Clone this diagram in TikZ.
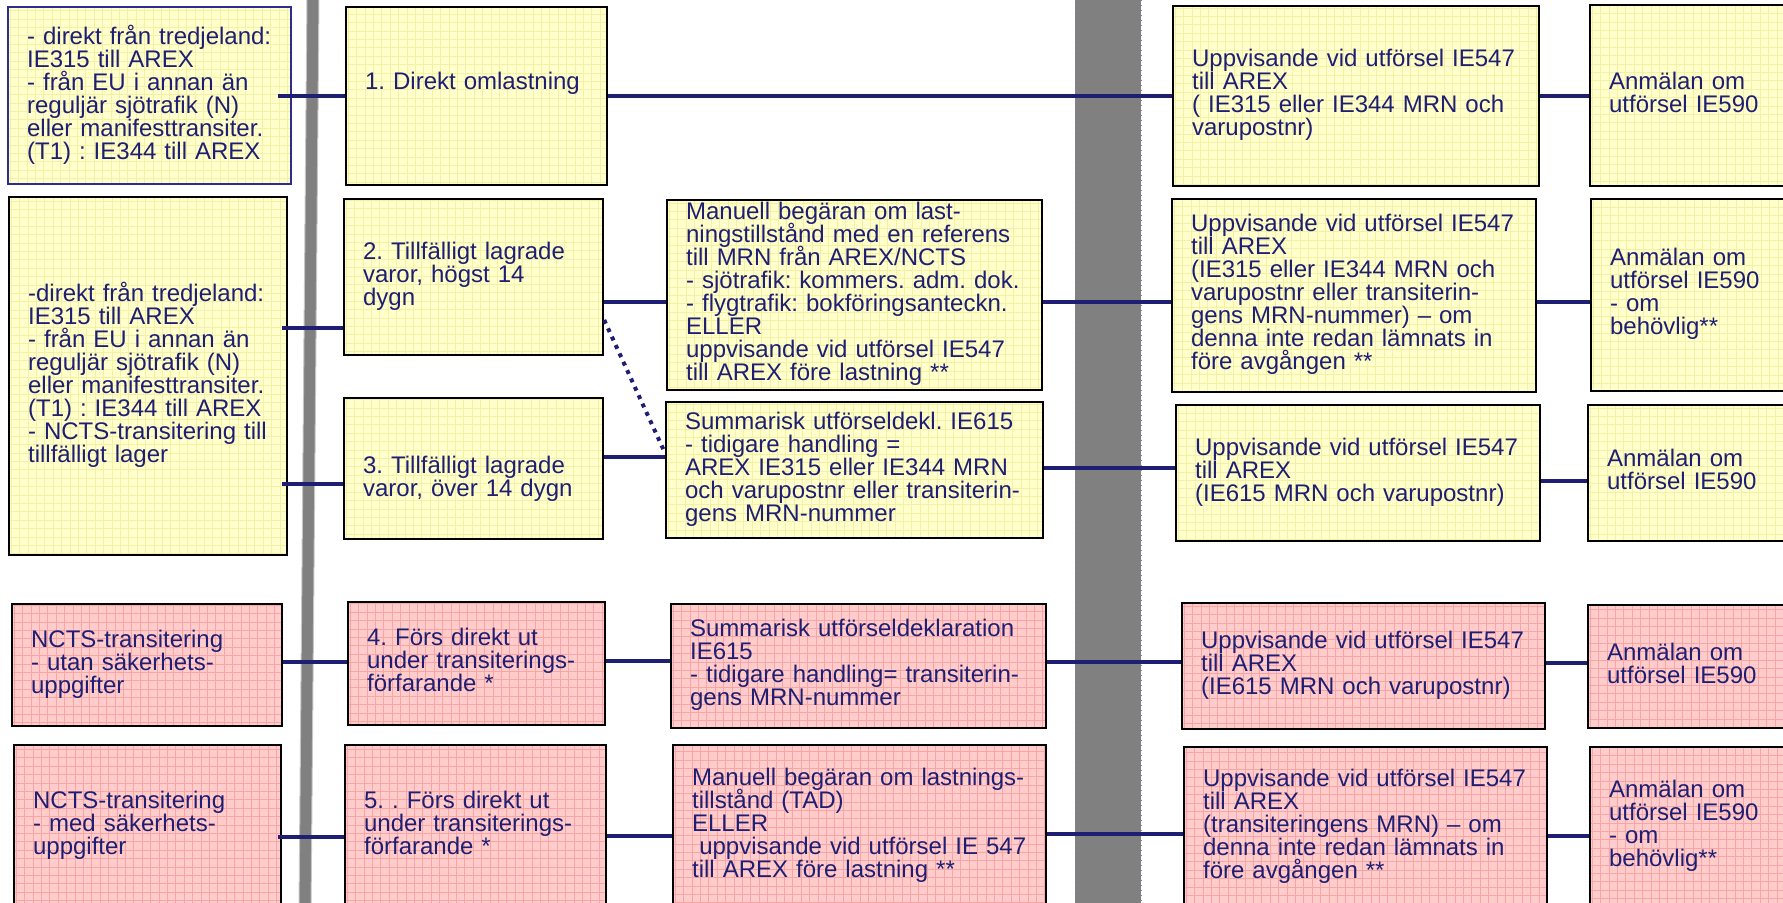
\documentclass[tikz,border=0pt]{standalone}
\usepackage{fontspec}
\setmainfont{Liberation Sans}

\definecolor{navyink}{RGB}{30,30,115}
\definecolor{navyedge}{RGB}{45,45,145}
\definecolor{padyellow}{RGB}{255,255,204}
\definecolor{padyellowgrid}{RGB}{244,240,168}
\definecolor{padpink}{RGB}{255,204,204}
\definecolor{padpinkgrid}{RGB}{250,165,165}
\definecolor{bargray}{RGB}{128,128,128}
\definecolor{barline}{RGB}{130,130,185}

% one box: name, style, left, top, width, height (all in pixels), text
\newcommand{\padnode}[7]{%
  \pgfmathsetmacro{\padw}{#5*0.5-19}%
  \pgfmathsetmacro{\padh}{#6*0.5}%
  \node[#2, text width=\padw pt, minimum height=\padh pt] (#1) at (#3,#4) {#7};%
}

\tikzset{
  ruled/.style={path picture={\draw[#1, line width=0.5pt, step=4.2pt]
    (path picture bounding box.south west) grid (path picture bounding box.north east);}},
  card/.style={draw=black, line width=1.1pt, anchor=north west, align=left,
    inner xsep=9.5pt, inner ysep=0pt, text=navyink,
    font=\fontsize{12pt}{11.5pt}\selectfont\frenchspacing,
    execute at begin node={\lineskiplimit=-20pt\strut},
    execute at end node=\strut},
  ycard/.style={card, fill=padyellow, ruled=padyellowgrid},
  pcard/.style={card, fill=padpink, ruled=padpinkgrid},
  wire/.style={navyink, line width=2pt},
  hint/.style={navyink, line width=2pt, dash pattern=on 2pt off 2.6pt}
}

\begin{document}
\begin{tikzpicture}[x=0.5pt, y=-0.5pt]
  \useasboundingbox (0,0) rectangle (1783,903);
  \clip (0,0) rectangle (1783,903);

  % the two gray bars
  \filldraw[fill=bargray, draw=bargray!45, line width=0.5pt]
    (307,-5) -- (319,-5) -- (311,910) -- (299,910) -- cycle;
  \fill[bargray] (1075,-5) rectangle (1141,910);
  \draw[barline, line width=0.5pt, dotted] (1075,-5) -- (1075,910) (1141,-5) -- (1141,910);

  % row 1
  \padnode{a1}{ycard, draw=navyedge}{7}{6}{283}{177}{- direkt från tredjeland:\\IE315 till AREX\\- från EU i annan än\\reguljär sjötrafik (N)\\eller manifesttransiter.\\(T1) : IE344 till AREX}
  \padnode{b1}{ycard}{345}{6}{261}{178}{1. Direkt omlastning\\\mbox{}}
  \padnode{d1}{ycard}{1172}{5}{366}{180}{Uppvisande vid utförsel IE547\\till AREX\\( IE315 eller IE344 MRN och\\varupostnr)}
  \padnode{e1}{ycard}{1589}{4}{220}{181}{Anmälan om\\utförsel IE590}

  % rows 2 and 3
  \padnode{a2}{ycard}{8}{196}{278}{358}{-direkt från tredjeland:\\IE315 till AREX\\- från EU i annan än\\reguljär sjötrafik (N)\\eller manifesttransiter.\\(T1) : IE344 till AREX\\- NCTS-transitering till\\tillfälligt lager}
  \padnode{b2}{ycard}{343}{198}{259}{156}{2. Tillfälligt lagrade\\varor, högst 14\\dygn}
  \padnode{b3}{ycard}{343}{397}{259}{141}{\mbox{}\\3. Tillfälligt lagrade\\varor, över 14 dygn}
  \padnode{c2}{ycard}{666}{199}{375}{190}{Manuell begäran om last-\\ningstillstånd med en referens\\till MRN från AREX/NCTS\\- sjötrafik: kommers. adm. dok.\\- flygtrafik: bokföringsanteckn.\\ELLER\\uppvisande vid utförsel IE547\\till AREX före lastning **}
  \padnode{c3}{ycard}{665}{401}{377}{136}{Summarisk utförseldekl. IE615\\- tidigare handling =\\AREX IE315 eller IE344 MRN\\och varupostnr eller transiterin-\\gens MRN-nummer}
  \padnode{d2}{ycard}{1171}{198}{364}{193}{Uppvisande vid utförsel IE547\\till AREX\\(IE315 eller IE344 MRN och\\varupostnr eller transiterin-\\gens MRN-nummer) – om\\denna inte redan lämnats in\\före avgången **}
  \padnode{d3}{ycard}{1175}{404}{364}{136}{Uppvisande vid utförsel IE547\\till AREX\\(IE615 MRN och varupostnr)}
  \padnode{e2}{ycard}{1590}{198}{220}{192}{Anmälan om\\utförsel IE590\\- om\\behövlig**}
  \padnode{e3}{ycard}{1587}{404}{220}{136}{Anmälan om\\utförsel IE590}

  % row 4
  \padnode{a4}{pcard}{11}{603}{270}{122}{NCTS-transitering\\- utan säkerhets-\\uppgifter}
  \padnode{b4}{pcard}{347}{601}{257}{123}{4. Förs direkt ut\\under transiterings-\\förfarande *}
  \padnode{c4}{pcard}{670}{603}{375}{124}{Summarisk utförseldeklaration\\IE615\\- tidigare handling= transiterin-\\gens MRN-nummer}
  \padnode{d4}{pcard}{1181}{602}{363}{126}{Uppvisande vid utförsel IE547\\till AREX\\(IE615 MRN och varupostnr)}
  \padnode{e4}{pcard}{1587}{604}{220}{123}{Anmälan om\\utförsel IE590}

  % row 5
  \padnode{a5}{pcard}{13}{744}{267}{162}{NCTS-transitering\\- med säkerhets-\\uppgifter}
  \padnode{b5}{pcard}{344}{744}{261}{162}{5. . Förs direkt ut\\under transiterings-\\förfarande *}
  \padnode{c5}{pcard}{672}{744}{373}{162}{Manuell begäran om lastnings-\\tillstånd (TAD)\\ELLER\\\hspace*{0.3em}uppvisande vid utförsel IE 547\\till AREX före lastning **}
  \padnode{d5}{pcard}{1183}{746}{363}{160}{Uppvisande vid utförsel IE547\\till AREX\\(transiteringens MRN) – om\\denna inte redan lämnats in\\före avgången **}
  \padnode{e5}{pcard}{1589}{746}{220}{160}{Anmälan om\\utförsel IE590\\- om\\behövlig**}

  % connectors (\ov = overlap into the left box)
  \foreach \from/\to/\lv/\ov in {a1/b1/96/7, b1/d1/96/0, d1/e1/96/0,
      a2/b2/328/3, a2/b3/484/3, b2/c2/302/0, c2/d2/302/0, d2/e2/302/0,
      b3/c3/457/0, c3/d3/468/0, d3/e3/481/0,
      a4/b4/662/0, b4/c4/661/0, c4/d4/662/0, d4/e4/663/0,
      a5/b5/837/2, b5/c5/836/0, c5/d5/834/0, d5/e5/836/0}
    \draw[wire] ([xshift=-\ov pt]\from.east |- 0,\lv) -- (\to.west |- 0,\lv);
  \draw[hint] (b2.east |- 0,320) -- (c3.west |- 0,453);
\end{tikzpicture}
\end{document}
